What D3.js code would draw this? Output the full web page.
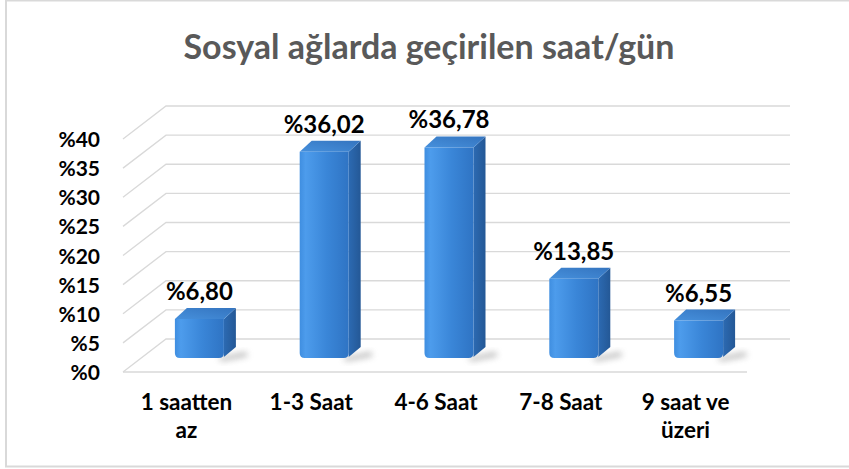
<html>
<head>
<meta charset="utf-8">
<title>Sosyal ağlarda geçirilen saat/gün</title>
<script src="https://d3js.org/d3.v7.min.js"></script>
<style>
  body { margin: 0; background: #fff; }
  text { font-family: Lato, "Open Sans", sans-serif; font-weight: bold; }
</style>
</head>
<body>
<svg width="849" height="469"></svg>
<script>
// data
var categories = ["1 saatten az", "1-3 Saat", "4-6 Saat", "7-8 Saat", "9 saat ve üzeri"];
var catLines = [["1 saatten", "az"], ["1-3 Saat"], ["4-6 Saat"], ["7-8 Saat"], ["9 saat ve", "üzeri"]];
var values = [6.80, 36.02, 36.78, 13.85, 6.55];
var valueLabels = ["%6,80", "%36,02", "%36,78", "%13,85", "%6,55"];
var yTicks = [0, 5, 10, 15, 20, 25, 30, 35, 40];
var title = "Sosyal ağlarda geçirilen saat/gün";

var svg = d3.select("svg");

// outer chart border
svg.append("rect")
  .attr("x", 6).attr("y", 0.5).attr("width", 850).attr("height", 466)
  .attr("fill", "#fff").attr("stroke", "#d9d9d9").attr("stroke-width", 2);

svg.append("text")
  .attr("x", 429).attr("y", 59)
  .attr("text-anchor", "middle")
  .style("font-size", "34px")
  .style("fill", "#595959")
  .text(title);

// 3d layout: front plane + depth offset to back wall
var depthX = 43, depthY = -33;
var x = d3.scaleBand().domain(categories).range([123, 747]);
var yFront = d3.scaleLinear().domain([0, 40]).range([372, 139]);
var yBar = d3.scaleLinear().domain([0, 40]).range([358, 129]);

var grid = svg.append("g").attr("fill", "none").attr("stroke", "#d9d9d9").attr("stroke-width", 1.3);
yTicks.forEach(function(t) {
  var yf = yFront(t), yb = yFront(t) + depthY;
  // side wall diagonal + back wall line
  grid.append("path")
    .attr("d", "M" + x.range()[0] + "," + yf + "L" + (x.range()[0] + depthX) + "," + yb +
               "L" + (x.range()[1] + depthX) + "," + yb);
});
// floor front edge
grid.append("line")
  .attr("x1", x.range()[0]).attr("x2", x.range()[1])
  .attr("y1", yFront(0)).attr("y2", yFront(0));

// y labels
svg.append("g").selectAll("text").data(yTicks).enter().append("text")
  .attr("x", 100)
  .attr("y", function(d) { return yFront(d) + 8; })
  .attr("text-anchor", "end")
  .style("font-size", "21px")
  .style("fill", "#000")
  .text(function(d) { return "%" + d; });

// gradients
var defs = svg.append("defs");
var gf = defs.append("linearGradient").attr("id", "front").attr("x1", 0).attr("x2", 1).attr("y1", 0).attr("y2", 0);
gf.append("stop").attr("offset", "0%").attr("stop-color", "#3f8ee0");
gf.append("stop").attr("offset", "12%").attr("stop-color", "#4d9cec");
gf.append("stop").attr("offset", "55%").attr("stop-color", "#3a86d8");
gf.append("stop").attr("offset", "100%").attr("stop-color", "#2f74c4");
var gs = defs.append("linearGradient").attr("id", "side").attr("x1", 0).attr("x2", 1).attr("y1", 0).attr("y2", 0);
gs.append("stop").attr("offset", "0%").attr("stop-color", "#2c6ab2");
gs.append("stop").attr("offset", "100%").attr("stop-color", "#245896");
var gt = defs.append("linearGradient").attr("id", "top").attr("x1", 0).attr("x2", 1).attr("y1", 1).attr("y2", 0);
gt.append("stop").attr("offset", "0%").attr("stop-color", "#4690dc");
gt.append("stop").attr("offset", "100%").attr("stop-color", "#3474bf");
defs.append("filter").attr("id", "blur").attr("x", "-50%").attr("y", "-50%").attr("width", "200%").attr("height", "200%")
  .append("feGaussianBlur").attr("stdDeviation", 3);

var barW = 49, dx = 12, dy = -11, shift = 14;
var bars = svg.append("g").selectAll("g").data(values).enter().append("g");

function bx(i) { return x(categories[i]) + x.bandwidth() / 2 + shift - barW / 2; }

// shadow
bars.append("path")
  .attr("d", function(d, i) {
    var x0 = bx(i) + barW - 6, y0 = yBar(0);
    return "M" + x0 + "," + y0 + "L" + (x0 + 28) + "," + (y0 - 6) + "L" + (x0 + 30) + "," + (y0 - 2) + "L" + (x0 + 4) + "," + (y0 + 3) + "Z";
  })
  .attr("fill", "#777").attr("opacity", 0.55).attr("filter", "url(#blur)");

// side face
bars.append("path")
  .attr("d", function(d, i) {
    var x1 = bx(i) + barW, yt = yBar(d), y0 = yBar(0);
    return "M" + x1 + "," + yt + "L" + (x1 + dx) + "," + (yt + dy) +
           "L" + (x1 + dx) + "," + (y0 + dy) + "L" + x1 + "," + (y0 - 1) + "Z";
  })
  .attr("fill", "url(#side)");

// top face
bars.append("path")
  .attr("d", function(d, i) {
    var x0 = bx(i), yt = yBar(d);
    return "M" + x0 + "," + yt + "L" + (x0 + dx) + "," + (yt + dy) +
           "L" + (x0 + barW + dx) + "," + (yt + dy) + "L" + (x0 + barW) + "," + yt + "Z";
  })
  .attr("fill", "url(#top)");

// front face with rounded bottom corners
bars.append("path")
  .attr("d", function(d, i) {
    var x0 = bx(i), x1 = x0 + barW, yt = yBar(d), y0 = yBar(0), r = 5;
    return "M" + x0 + "," + yt + "L" + x1 + "," + yt + "L" + x1 + "," + (y0 - r) +
           "Q" + x1 + "," + y0 + " " + (x1 - r) + "," + y0 + "L" + (x0 + r) + "," + y0 +
           "Q" + x0 + "," + y0 + " " + x0 + "," + (y0 - r) + "Z";
  })
  .attr("fill", "url(#front)");

// value labels
bars.append("text")
  .attr("x", function(d, i) { return bx(i) + barW / 2; })
  .attr("y", function(d) { return yBar(d) - 19; })
  .attr("text-anchor", "middle")
  .style("font-size", "24px")
  .style("fill", "#000")
  .text(function(d, i) { return valueLabels[i]; });

// category labels
var cats = svg.append("g").selectAll("text").data(categories).enter().append("text")
  .attr("x", function(d) { return x(d) + x.bandwidth() / 2 + 1; })
  .attr("y", 410)
  .attr("text-anchor", "middle")
  .style("font-size", "22.5px")
  .style("fill", "#000");
cats.selectAll("tspan").data(function(d, i) { return catLines[i]; }).enter().append("tspan")
  .attr("x", function() { return d3.select(this.parentNode).attr("x"); })
  .attr("dy", function(d, j) { return j === 0 ? 0 : 28; })
  .text(function(d) { return d; });
</script>
</body>
</html>
